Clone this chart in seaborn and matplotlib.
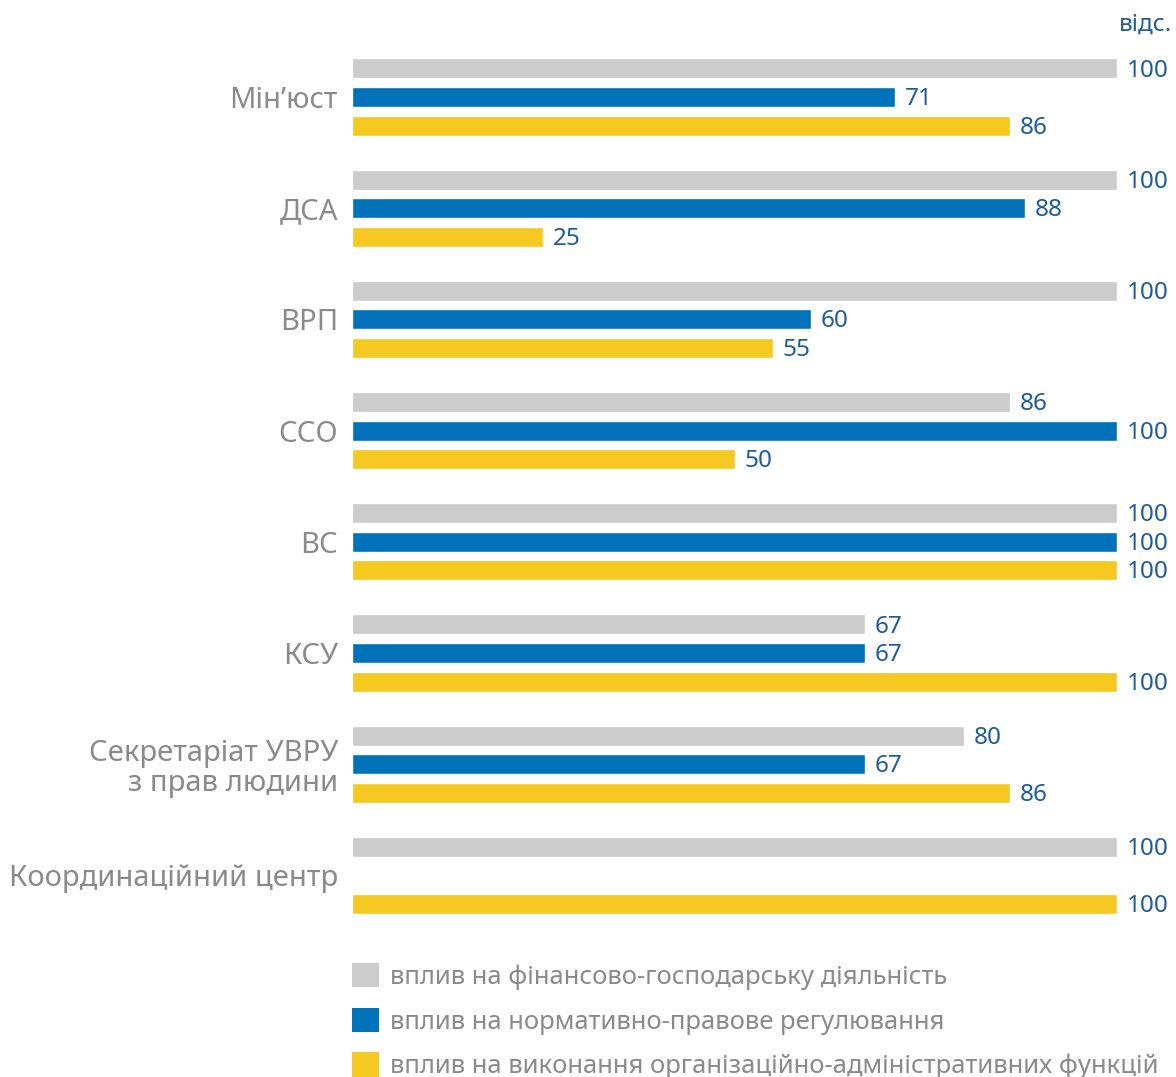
import numpy as np
import pandas as pd
import matplotlib
matplotlib.use("Agg")
import matplotlib.pyplot as plt
from matplotlib.patches import Patch
import seaborn as sns

categories = ["Мін’юст", "ДСА", "ВРП", "ССО", "ВС", "КСУ",
              "Секретаріат УВРУ\nз прав людини", "Координаційний центр"]
series_names = ["вплив на фінансово-господарську діяльність",
                "вплив на нормативно-правове регулювання",
                "вплив на виконання організаційно-адміністративних функцій"]
fin_values = [100, 100, 100, 86, 100, 67, 80, 100]
norm_values = [71, 88, 60, 100, 100, 67, 67, np.nan]
org_values = [86, 25, 55, 50, 100, 100, 86, 100]
colors = ["#cccccc", "#0072b9", "#f5c922"]
unit_label = "відс."

sns.set_theme(style="white")
plt.rcParams["font.family"] = ["Noto Sans", "DejaVu Sans"]

rows = []
for s, vals in zip(series_names, [fin_values, norm_values, org_values]):
    for c, v in zip(categories, vals):
        rows.append({"cat": c, "series": s, "value": v})
df = pd.DataFrame(rows)

W, H = 1176, 1077
fig = plt.figure(figsize=(W / 100, H / 100), dpi=100)
ax = fig.add_axes([352 / W, 1 - 931 / H, 765 / W, 889.6 / H])

sns.barplot(data=df, y="cat", x="value", hue="series", order=categories,
            hue_order=series_names, palette=colors, orient="h",
            width=0.77, gap=0.30, saturation=1, legend=False, ax=ax)

ax.set_xlim(0, 100)
ax.set_ylim(7.5, -0.5)
ax.set_xlabel("")
ax.set_ylabel("")
ax.set_xticks([])
for sp in ax.spines.values():
    sp.set_visible(False)
ax.tick_params(axis="y", length=0, pad=10, labelsize=21, labelcolor="#8a8a8a")
for t in ax.get_yticklabels():
    t.set_linespacing(1.05)

text_blue = "#1f5c99"
for p in ax.patches:
    w = p.get_width()
    if w is None or np.isnan(w) or w <= 0:
        continue
    yc = p.get_y() + p.get_height() / 2
    ax.annotate(f"{int(round(w))}", xy=(w, yc), xytext=(7, -1.5),
                textcoords="offset points", ha="left", va="center",
                fontsize=17.5, color=text_blue, annotation_clip=False)

fig.text(1172 / W, 1 - 25 / H, unit_label, ha="right", va="center",
         fontsize=17.5, color=text_blue)

handles = [Patch(facecolor=c, edgecolor="none") for c in colors]
fs = 18.5
fig.legend(handles, series_names, loc="upper left",
           bbox_to_anchor=(352 / W, 1 - 963 / H), frameon=False,
           borderpad=0, borderaxespad=0, fontsize=fs,
           handlelength=1.05, handleheight=1.08, handletextpad=0.42,
           labelspacing=0.69, labelcolor="#8a8a8a")

fig.savefig("out.png", dpi=100)
